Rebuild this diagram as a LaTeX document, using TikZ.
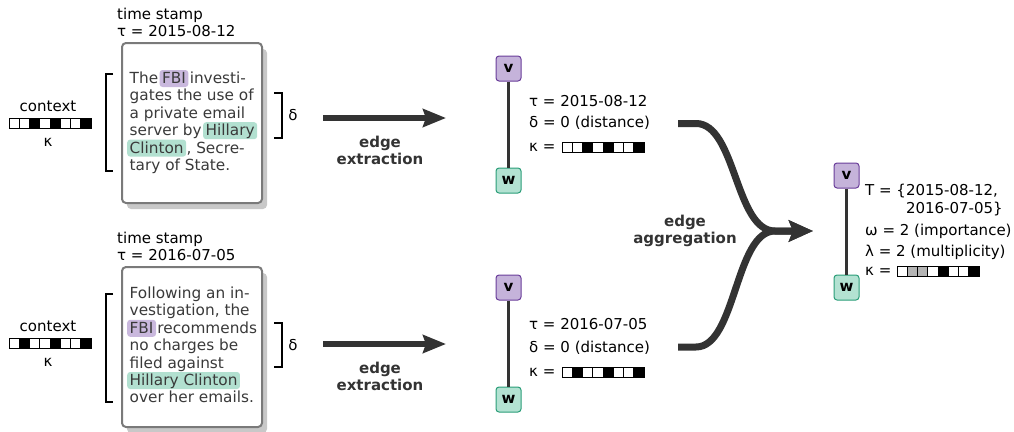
\documentclass[tikz,border=0pt]{standalone}
\usepackage{fontspec}
\setmainfont{DejaVu Sans}
\usepackage{tikz}
\usetikzlibrary{calc}
\usetikzlibrary{positioning}
\usetikzlibrary{shadows}
\usetikzlibrary{arrows.meta}

\definecolor{docframe}{HTML}{7A7A7A}
\definecolor{docshade}{HTML}{C8C8C8}
\definecolor{bodytext}{HTML}{3A3A3A}
\definecolor{fbifill}{HTML}{C9B8DD}
\definecolor{hcfill}{HTML}{B2E0D0}
\definecolor{vfill}{HTML}{C5B3DA}
\definecolor{vdraw}{HTML}{6A3D9A}
\definecolor{wfill}{HTML}{B3E2D2}
\definecolor{wdraw}{HTML}{2A9D78}
\definecolor{darkline}{HTML}{333333}
\definecolor{kgray}{HTML}{B4B4B4}

\newcommand{\labfont}{\fontsize{15}{18}\selectfont}

% context vector: bottom left corner, list of cell colours
\newcommand{\kbar}[2]{%
  \foreach \col [count=\i from 0] in {#2}
    \draw[cell, fill=\col] ($(#1)+(\i*10.25,0)$) rectangle ++(10.25,-10);}

\tikzset{
  lbl/.style={inner sep=0pt, anchor=base west, font=\labfont},
  body/.style={inner sep=0pt, anchor=base west, text=bodytext, font=\fontsize{15.3}{17.5}\selectfont},
  hl/.style={body, rounded corners=3pt, inner xsep=2.5pt, inner ysep=2pt, text height=11.5pt, text depth=1.5pt},
  hlfbi/.style={hl, fill=fbifill},
  hlhc/.style={hl, fill=hcfill},
  doc/.style={draw=docframe, line width=2pt, rounded corners=4pt, fill=white,
    minimum width=140pt, minimum height=160pt, inner sep=0pt,
    drop shadow={shadow xshift=5pt, shadow yshift=-6pt, fill=docshade, opacity=1}},
  vert/.style={line width=1pt, rounded corners=3pt, minimum size=25pt, inner sep=0pt, font=\labfont\bfseries},
  vnode/.style={vert, draw=vdraw, fill=vfill},
  wnode/.style={vert, draw=wdraw, fill=wfill},
  edgeline/.style={line width=3pt, draw=darkline},
  bracket/.style={line width=1.1pt},
  cell/.style={draw=black, line width=0.9pt},
  bigarrow/.style={line width=6pt, draw=darkline, -{Stealth[length=23pt, width=18pt, inset=3pt]}},
  mergearrow/.style={line width=7pt, draw=darkline, -{Stealth[length=24pt, width=21pt, inset=4pt]}},
  stage/.style={align=center, inner sep=0pt, text=darkline, font=\fontsize{15}{17}\selectfont\bfseries},
}

\begin{document}
\begin{tikzpicture}[x=1pt,y=-1pt]
\useasboundingbox (0,0) rectangle (1014,431);

% --- first document ---
\node[lbl] (ts1) at (117,19) {time stamp};
\node[lbl] (tau1) at (117,36.5) {τ = 2015-08-12};
\node[doc] (doc1) at (192,123) {};

\node[body] (a1) at (129.5,83.5) {The};
\node[hlfbi] (fbi1) at ([xshift=1pt]a1.base east) {FBI};
\node[body] (a1b) at ([xshift=1pt]fbi1.base east) {investi-};
\node[body] (a2) at (129.5,100.9) {gates the use of};
\node[body] (a3) at (129.5,118.3) {a private email};
\node[body] (a4) at (129.5,135.7) {server by};
\node[hlhc] (hc1a) at ([xshift=1pt]a4.base east) {Hillary};
\node[hlhc] (hc1b) at (127,153.1) {Clinton};
\node[body] (a5) at (hc1b.base east) {, Secre-};
\node[body] (a6) at (129.5,170.5) {tary of State.};

\draw[bracket] (113,74) -- (106,74) -- (106,171) -- (113,171);
\draw[bracket] (274,93) -- (282,93) -- (282,138) -- (274,138);
\node[font=\labfont, inner sep=0pt] (d1) at (293,115) {δ};

\node[lbl, anchor=base] (ctx1) at (48,111) {context};
\kbar{9,128}{white,white,black,white,black,white,white,black}
\node[lbl, anchor=base] (k1) at (48,146) {κ};

% --- second document ---
\node[lbl] (ts2) at (117,243) {time stamp};
\node[lbl] (tau2) at (117,260.5) {τ = 2016-07-05};
\node[doc] (doc2) at (192,347) {};

\node[body] (b1) at (129.5,298.5) {Following an in-};
\node[body] (b2) at (129.5,315.9) {vestigation, the};
\node[hlfbi] (fbi2) at (127,333.3) {FBI};
\node[body] (b3) at ([xshift=1pt]fbi2.base east) {recommends};
\node[body] (b4) at (129.5,350.7) {no charges be};
\node[body] (b5) at (129.5,368.1) {filed against};
\node[hlhc] (hc2) at (127,385.5) {Hillary Clinton};
\node[body] (b7) at (129.5,402.9) {over her emails.};

\draw[bracket] (113,294) -- (106,294) -- (106,402) -- (113,402);
\draw[bracket] (274,323) -- (282,323) -- (282,367) -- (274,367);
\node[font=\labfont, inner sep=0pt] (d2) at (293,345) {δ};

\node[lbl, anchor=base] (ctx2) at (48,331) {context};
\kbar{9,348}{white,black,white,white,black,white,white,black}
\node[lbl, anchor=base] (k2) at (48,366) {κ};

% --- edge extraction ---
\coordinate (ext1s) at (323,118);
\coordinate (ext1e) at (446,118);
\coordinate (ext2s) at (323,344);
\coordinate (ext2e) at (446,344);
\draw[bigarrow] (ext1s) -- (ext1e);
\draw[bigarrow] (ext2s) -- (ext2e);
\node[stage] (xlab1) at (380,150.5) {edge\\extraction};
\node[stage] (xlab2) at (380,376) {edge\\extraction};

% extracted edges
\node[vnode] (v1) at (508.5,68.5) {v};
\node[wnode] (w1) at (508.5,180.5) {w};
\draw[edgeline] (v1) -- (w1);
\node[lbl] (e1t) at (529,106) {τ = 2015-08-12};
\node[lbl] (e1d) at (529,127.5) {δ = 0 (distance)};
\node[lbl] (e1k) at (529,151.5) {κ =};
\kbar{562,152}{white,white,black,white,black,white,white,black}

\node[vnode] (v2) at (508.5,287.5) {v};
\node[wnode] (w2) at (508.5,399.5) {w};
\draw[edgeline] (v2) -- (w2);
\node[lbl] (e2t) at (529,329) {τ = 2016-07-05};
\node[lbl] (e2d) at (529,352.5) {δ = 0 (distance)};
\node[lbl] (e2k) at (529,376.5) {κ =};
\kbar{562,377}{white,black,white,white,black,white,white,black}

% --- edge aggregation ---
\coordinate (agg1) at (678,123.5);
\coordinate (agg2) at (678,347);
\coordinate (join) at (775,231);
\coordinate (aggtip) at (813,231);
\draw[mergearrow] (agg1) -- ++(18,0) .. controls +(40,0) and ($(join)+(-40,0)$) .. (join) -- (aggtip);
\draw[mergearrow] (agg2) -- ++(18,0) .. controls +(40,0) and ($(join)+(-40,0)$) .. (join) -- (aggtip);
\node[stage] (alab) at (685,231) {edge\\aggregation};

% aggregated edge
\node[vnode] (v3) at (846.5,175.5) {v};
\node[wnode] (w3) at (846.5,287.5) {w};
\draw[edgeline] (v3) -- (w3);
\node[lbl] (gT) at (865,195) {T = \{2015-08-12,};
\node[lbl] (gT2) at (865,213) {\phantom{T = \{}2016-07-05\}};
\node[lbl] (gw) at (865,235) {ω = 2 (importance)};
\node[lbl] (gl) at (865,256) {λ = 2 (multiplicity)};
\node[lbl] (gk) at (865,275.5) {κ =};
\kbar{897,276}{white,kgray,kgray,white,black,white,white,black}

\end{tikzpicture}
\end{document}
